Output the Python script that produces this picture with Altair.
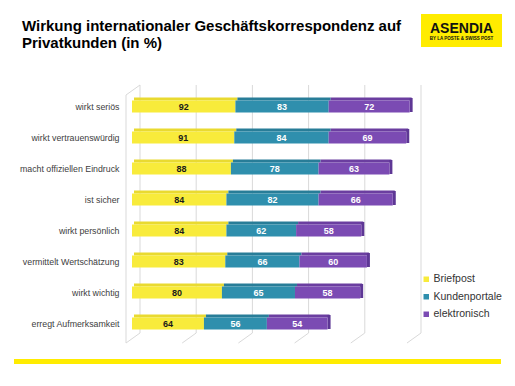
import altair as alt
import pandas as pd

categories = ["wirkt seriös", "wirkt vertrauenswürdig", "macht offiziellen Eindruck",
              "ist sicher", "wirkt persönlich", "vermittelt Wertschätzung",
              "wirkt wichtig", "erregt Aufmerksamkeit"]
series = ["Briefpost", "Kundenportale", "elektronisch"]
briefpost = [92, 91, 88, 84, 84, 83, 80, 64]
kundenportale = [83, 84, 78, 82, 62, 66, 65, 56]
elektronisch = [72, 69, 63, 66, 58, 60, 58, 54]
grid_values = [0, 50, 100, 150, 200, 250]

front_colors = ["#F8EB3B", "#2F8FAD", "#7B4BB3"]
top_colors = ["#E9DA30", "#287D98", "#6B3EA0"]
text_colors = ["#1a1a1a", "#ffffff", "#ffffff"]

rows = []
for i, cat in enumerate(categories):
    start = 0
    for j, (s, vals) in enumerate(zip(series, [briefpost, kundenportale, elektronisch])):
        v = vals[i]
        rows.append(dict(cat=cat, series=s, value=v, start=start, end=start + v,
                         mid=start + v / 2, top=top_colors[j], tcol=text_colors[j],
                         last=(j == 2)))
        start += v
df = pd.DataFrame(rows)
df_last = df[df["last"]]
grid_df = pd.DataFrame({"g": grid_values})

W, H = 281, 248
xs = alt.Scale(domain=[0, 250], range=[0, W], nice=False, zero=True)
ys = alt.Scale(domain=categories, paddingInner=0.6, paddingOuter=0.3)

X = alt.X("start:Q", scale=xs, axis=None)
Y = alt.Y("cat:N", scale=ys, sort=categories, title=None,
          axis=alt.Axis(domain=False, ticks=False, labelPadding=13, labelFontSize=8.8,
                        labelColor="#404040", labelFont="Liberation Sans", labelLimit=200))

base = alt.Chart(df)

grid_back = alt.Chart(grid_df).mark_rule(color="#d9d9d9", strokeWidth=1, xOffset=8, x2Offset=8).encode(
    x=alt.X("g:Q", scale=xs, axis=None), y=alt.value(-6), y2=alt.value(242))
grid_floor = alt.Chart(grid_df).mark_rule(color="#d9d9d9", strokeWidth=1, xOffset=8, x2Offset=-6).encode(
    x=alt.X("g:Q", scale=xs, axis=None), x2="g:Q", y=alt.value(242), y2=alt.value(252))
left_wall = alt.Chart(pd.DataFrame({"g": [0]})).mark_rule(color="#d9d9d9", xOffset=-6, x2Offset=-6).encode(
    x=alt.X("g:Q", scale=xs, axis=None), y=alt.value(4), y2=alt.value(252))
left_top = alt.Chart(pd.DataFrame({"g": [0]})).mark_rule(color="#d9d9d9", xOffset=-6, x2Offset=8).encode(
    x=alt.X("g:Q", scale=xs, axis=None), x2="g:Q", y=alt.value(4), y2=alt.value(-6))

top_face = base.mark_bar(size=3, yOffset=-7.5, xOffset=2, x2Offset=2).encode(
    x=X, x2="end:Q", y=Y, fill=alt.Fill("top:N", scale=None))
side_face = alt.Chart(df_last).mark_bar(size=14, yOffset=-1.5, color="#5E3795", x2Offset=3).encode(
    x=alt.X("end:Q", scale=xs, axis=None), x2="end:Q", y=Y)
bars = base.mark_bar(size=12).encode(
    x=X, x2="end:Q", y=Y,
    color=alt.Color("series:N", scale=alt.Scale(domain=series, range=front_colors),
                    sort=series,
                    legend=alt.Legend(title=None, orient="none", legendX=289, legendY=183,
                                      symbolType="square", symbolSize=30, symbolStrokeWidth=0,
                                      labelFontSize=10.5, labelFont="Liberation Sans",
                                      labelColor="#333333", rowPadding=6.5, labelOffset=2)))
labels = base.mark_text(fontSize=9, fontWeight="bold", font="Liberation Sans", dy=0.5).encode(
    x=alt.X("mid:Q", scale=xs, axis=None), y=Y, text="value:Q",
    fill=alt.Fill("tcol:N", scale=None))

deco = pd.DataFrame({"k": [0]})
yellow_line = alt.Chart(deco).mark_rect(color="#FFEC00").encode(
    x=alt.value(-118), x2=alt.value(369), y=alt.value(268), y2=alt.value(273))
logo_box = alt.Chart(deco).mark_rect(color="#FFEC00").encode(
    x=alt.value(289), x2=alt.value(370), y=alt.value(-77), y2=alt.value(-44))
logo_text = alt.Chart(deco).mark_text(text="ASENDIA", font="Liberation Sans", fontWeight="bold",
                                      fontSize=14, color="#111111", align="center").encode(
    x=alt.value(329.5), y=alt.value(-62))
logo_sub = alt.Chart(deco).mark_text(text="BY LA POSTE & SWISS POST", font="Liberation Sans",
                                     fontWeight="bold", fontSize=4.5, color="#111111",
                                     align="center").encode(
    x=alt.value(329.5), y=alt.value(-52))
title1 = alt.Chart(deco).mark_text(text="Wirkung internationaler Geschäftskorrespondenz auf",
                                   font="Liberation Sans", fontWeight="bold", fontSize=15,
                                   color="#000000", align="left", baseline="alphabetic").encode(
    x=alt.value(-110), y=alt.value(-60))
title2 = alt.Chart(deco).mark_text(text="Privatkunden (in %)",
                                   font="Liberation Sans", fontWeight="bold", fontSize=15,
                                   color="#000000", align="left", baseline="alphabetic").encode(
    x=alt.value(-110), y=alt.value(-43))

chart = alt.layer(grid_back, grid_floor, left_wall, left_top, top_face, side_face, bars, labels,
                  yellow_line, logo_box, logo_text, logo_sub, title1, title2).properties(
    width=W, height=H,
    autosize=alt.AutoSizeParams(type="none"),
    padding={"left": 124, "top": 83, "right": 94, "bottom": 39},
    background="#ffffff",
).configure_view(stroke=None)

chart.save("out.html", embed_options={"renderer": "svg", "actions": False})
